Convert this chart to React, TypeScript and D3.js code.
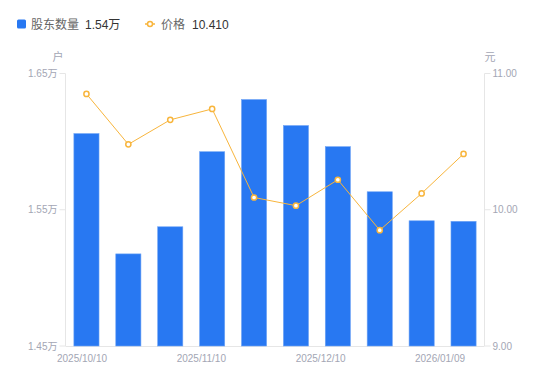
import React from "react";
import * as d3 from "d3";

const categories = ["2025/10/10","2025/10/17","2025/10/24","2025/10/31","2025/11/10","2025/11/20","2025/11/28","2025/12/10","2025/12/19","2026/01/09"];
const holders = [16059, 15176, 15375, 15926, 16309, 16118, 15963, 15632, 15419, 15415];
const prices = [10.85, 10.48, 10.66, 10.74, 10.09, 10.03, 10.22, 9.85, 10.12, 10.41];
const xTickLabels = ["2025/10/10", "2025/11/10", "2025/12/10", "2026/01/09"];
const leftTicks = [14500, 15500, 16500];
const rightTicks = [9, 10, 11];

const W = 550, H = 381;
const L = 65.5, R = 484.5, T = 73.5, B = 346;
const FONT = "'Liberation Sans', Arial, 'Noto Sans CJK SC', sans-serif";
const BLUE = "#2878f2";
const ORANGE = "#f8b53c";
const GRAY = "#a3a6b4";

export default function App() {
  const x = d3.scaleBand<string>().domain(categories).range([L, R]).paddingInner(0.4).paddingOuter(0.2);
  const yL = d3.scaleLinear().domain([14500, 16500]).range([B, T]);
  const yR = d3.scaleLinear().domain([9, 11]).range([B, T]);
  const xl = d3.scalePoint<string>().domain(xTickLabels).range([82, 440]);
  const line = d3.line<number>().x((_, i) => x(categories[i])! + x.bandwidth() / 2).y((d) => yR(d));
  const lastH = holders[holders.length - 1];
  const lastP = prices[prices.length - 1];
  return (
    <svg width={W} height={H} style={{ position: "absolute", left: 0, top: 0, fontFamily: FONT }}>
      <rect width={W} height={H} fill="#fff" />
      {/* legend */}
      <rect x={17} y={19.5} width={9} height={9} rx={1.5} fill={BLUE} />
      <text x={31} y={28.5} fontSize={12} fill="#666">股东数量</text>
      <text x={85} y={28.5} fontSize={12} fill="#333">{(lastH / 10000).toFixed(2)}万</text>
      <line x1={145} x2={155} y1={24} y2={24} stroke={ORANGE} strokeWidth={1.5} />
      <circle cx={150} cy={24} r={2.5} fill="#fff" stroke={ORANGE} strokeWidth={1.5} />
      <text x={161} y={28.5} fontSize={12} fill="#666">价格</text>
      <text x={192} y={28.5} fontSize={12} fill="#333">{lastP.toFixed(3)}</text>
      {/* units */}
      <text x={58} y={61} fontSize={11} fill={GRAY} textAnchor="middle">户</text>
      <text x={490} y={61} fontSize={11} fill={GRAY} textAnchor="middle">元</text>
      {/* axes */}
      <line x1={L} x2={L} y1={T} y2={B} stroke="#e6e6e6" />
      <line x1={R} x2={R} y1={T} y2={B} stroke="#e6e6e6" />
      <line x1={L} x2={R} y1={B + 0.5} y2={B + 0.5} stroke="#e6e6e6" />
      {leftTicks.map((t) => (
        <g key={t}>
          <line x1={L - 6} x2={L} y1={yL(t)} y2={yL(t)} stroke="#e6e6e6" />
          <text x={L - 8} y={yL(t) + 3.5} fontSize={10} fill={GRAY} textAnchor="end">{(t / 10000).toFixed(2)}万</text>
        </g>
      ))}
      {rightTicks.map((t) => (
        <g key={t}>
          <line x1={R} x2={R + 6} y1={yR(t)} y2={yR(t)} stroke="#e6e6e6" />
          <text x={R + 8} y={yR(t) + 3.5} fontSize={10} fill={GRAY}>{t.toFixed(2)}</text>
        </g>
      ))}
      {xTickLabels.map((t) => (
        <text key={t} x={xl(t)} y={361.5} fontSize={10} fill={GRAY} textAnchor="middle">{t}</text>
      ))}
      {/* bars */}
      {holders.map((v, i) => (
        <rect key={i} x={x(categories[i])!} y={yL(v)} width={x.bandwidth()} height={B - yL(v)}
          fill={BLUE} stroke="#6fa4f5" strokeWidth={0.6} />
      ))}
      {/* line */}
      <path d={line(prices)!} fill="none" stroke={ORANGE} strokeWidth={1} />
      {prices.map((p, i) => (
        <circle key={i} cx={x(categories[i])! + x.bandwidth() / 2} cy={yR(p)} r={2.6}
          fill="#fff" stroke={ORANGE} strokeWidth={1.5} />
      ))}
    </svg>
  );
}
